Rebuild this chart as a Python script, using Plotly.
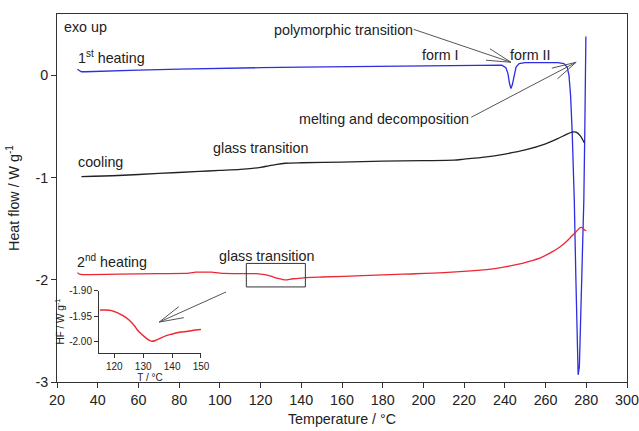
import math
import plotly.graph_objects as go

# ---------------- data ----------------
heat1_T = [30, 31, 32, 34, 40, 60, 80, 100, 120, 140, 160, 180, 200, 220, 235, 238.5, 240.5, 241.5,
           242.3, 243, 243.7, 244.5, 245.5, 247, 250, 260, 266, 269, 270.6, 271.5, 272.3, 273.1,
           274.1, 274.9, 275.5, 276.0, 276.6, 277.3, 278.0, 278.8, 279.3, 279.8]
heat1_Y = [0.06, 0.045, 0.035, 0.035, 0.04, 0.05, 0.06, 0.07, 0.075, 0.08, 0.085, 0.09, 0.095, 0.10,
           0.105, 0.10, 0.075, 0.02, -0.08, -0.13, -0.09, 0.0, 0.08, 0.115, 0.125, 0.125, 0.125, 0.115,
           0.08, 0.0, -0.2, -0.57, -1.22, -2.0, -2.6, -2.93, -2.85, -2.4, -1.8, -1.22, -0.5, 0.38]

cool_T = [32, 50, 70, 90, 100, 110, 116, 120, 124, 128, 132, 140, 160, 180, 200, 215, 220, 230,
          240, 250, 260, 266, 270, 273, 275, 277, 279]
cool_Y = [-0.99, -0.98, -0.96, -0.94, -0.93, -0.92, -0.91, -0.90, -0.885, -0.87, -0.86, -0.855,
          -0.85, -0.84, -0.835, -0.83, -0.82, -0.80, -0.77, -0.73, -0.67, -0.62, -0.58, -0.555,
          -0.555, -0.59, -0.66]

heat2_T = [30, 31, 33, 36, 50, 70, 85, 88, 92, 96, 100, 110, 118, 122, 125, 128, 131, 133, 136,
           140, 145, 150, 170, 190, 210, 225, 235, 245, 252, 258, 263, 267, 270, 273, 275, 277,
           278, 279, 280]
heat2_Y = [-1.93, -1.945, -1.95, -1.95, -1.945, -1.94, -1.935, -1.925, -1.925, -1.925, -1.935,
           -1.94, -1.94, -1.95, -1.965, -1.985, -1.998, -2.0, -1.99, -1.983, -1.977, -1.973, -1.96,
           -1.945, -1.93, -1.91, -1.89, -1.855, -1.82, -1.78, -1.73, -1.68, -1.63, -1.57, -1.53,
           -1.49, -1.49, -1.51, -1.52]

inset_T = [115, 117, 119, 120, 121, 123, 125, 127, 128, 129, 131, 132, 133, 134, 136, 138, 140,
           143, 145, 147, 150]
inset_Y = [-1.938, -1.938, -1.939, -1.941, -1.943, -1.949, -1.957, -1.969, -1.977, -1.983, -1.993,
           -1.997, -1.999, -1.998, -1.993, -1.988, -1.985, -1.981, -1.980, -1.978, -1.976]

x_ticks = [20, 40, 60, 80, 100, 120, 140, 160, 180, 200, 220, 240, 260, 280, 300]
y_ticks = [0, -1, -2, -3]
inset_x_ticks = [120, 130, 140, 150]
inset_y_ticks = [-1.90, -1.95, -2.00]

# ---------------- layout constants ----------------
W, H = 639, 431
ML, MR, MT, MB = 57, 12, 14, 49
XR = [20, 300]
YR = [-3, 0.6]
PW, PH = W - ML - MR, H - MT - MB
sx = PW / (XR[1] - XR[0])
sy = PH / (YR[1] - YR[0])

FONT = "Liberation Sans, Arial, sans-serif"
TXT = "#222222"
ARROW = "#555555"
FS = 14.3

fig = go.Figure()
fig.add_trace(go.Scatter(x=heat1_T, y=heat1_Y, mode="lines",
                         line=dict(color="rgb(45,45,225)", width=1.3), showlegend=False))
fig.add_trace(go.Scatter(x=cool_T, y=cool_Y, mode="lines",
                         line=dict(color="#222222", width=1.3, shape="spline", smoothing=0.8),
                         showlegend=False))
fig.add_trace(go.Scatter(x=heat2_T, y=heat2_Y, mode="lines",
                         line=dict(color="rgb(235,40,50)", width=1.3, shape="spline", smoothing=0.8),
                         showlegend=False))
fig.add_trace(go.Scatter(x=inset_T, y=inset_Y, mode="lines", xaxis="x2", yaxis="y2",
                         line=dict(color="rgb(235,40,50)", width=1.5, shape="spline", smoothing=0.8),
                         showlegend=False))

# rectangle marking the glass transition region
fig.add_shape(type="rect", xref="x", yref="y", x0=113, x1=142, y0=-2.07, y1=-1.84,
              line=dict(color="#333333", width=1))


def arrow(tail, tip, length=25, ang=14):
    fig.add_shape(type="line", xref="x", yref="y", x0=tail[0], y0=tail[1], x1=tip[0], y1=tip[1],
                  line=dict(color=ARROW, width=1))
    dx = (tail[0] - tip[0]) * sx
    dy = -(tail[1] - tip[1]) * sy
    n = math.hypot(dx, dy)
    ux, uy = dx / n, dy / n
    for s in (-1, 1):
        a = math.radians(ang * s)
        bx = ux * math.cos(a) - uy * math.sin(a)
        by = ux * math.sin(a) + uy * math.cos(a)
        ex = tip[0] + bx * length / sx
        ey = tip[1] - by * length / sy
        fig.add_shape(type="line", xref="x", yref="y", x0=tip[0], y0=tip[1], x1=ex, y1=ey,
                      line=dict(color=ARROW, width=1))


arrow((195.2, 0.45), (243.0, 0.128))
arrow((223.5, -0.41), (275.0, 0.128))
arrow((103.0, -2.12), (70.2, -2.414))


def label(x, y, text, anchor="left", size=FS):
    fig.add_annotation(x=x, y=y, xref="x", yref="y", text=text, showarrow=False,
                       xanchor=anchor, yanchor="middle", font=dict(family=FONT, size=size, color=TXT))


label(22.5, 0.47, "exo up")
label(29.5, 0.18, "1<sup>st</sup> heating")
label(29.5, -0.85, "cooling")
label(120.0, -0.71, "glass transition", "center")
label(196.0, 0.44, "polymorphic transition", "right")
label(208.3, 0.195, "form I", "center")
label(252.5, 0.195, "form II", "center")
label(223.5, -0.43, "melting and decomposition", "right")
label(29.0, -1.82, "2<sup>nd</sup> heating")
label(123.0, -1.77, "glass transition", "center")

axis_common = dict(showgrid=False, zeroline=False, showline=True, linecolor="#333333",
                   linewidth=1, ticks="outside", tickcolor="#333333", ticklen=5, automargin=False,
                   tickfont=dict(family=FONT, size=FS, color=TXT))

fig.update_layout(
    template="none",
    width=W, height=H, autosize=False,
    margin=dict(l=ML, r=MR, t=MT, b=MB, pad=0),
    paper_bgcolor="white", plot_bgcolor="white",
    showlegend=False,
    xaxis=dict(range=XR, tickvals=x_ticks, mirror=True,
               title=dict(text="Temperature / °C", standoff=6,
                          font=dict(family=FONT, size=FS, color=TXT)),
               **axis_common),
    yaxis=dict(range=YR, tickvals=y_ticks, ticktext=[str(v) for v in y_ticks], mirror=True,
               title=dict(text="Heat flow / W g<sup>-1</sup>", standoff=12,
                          font=dict(family=FONT, size=FS, color=TXT)),
               **axis_common),
    xaxis2=dict(domain=[0.0737, 0.2526], anchor="y2", range=[114.7, 150], tickvals=inset_x_ticks,
                showgrid=False, zeroline=False, showline=True, linecolor="#333333", linewidth=1,
                ticks="outside", ticklen=4, tickcolor="#333333", automargin=False,
                tickfont=dict(family=FONT, size=10, color=TXT),
                title=dict(text="T / °C", standoff=0, font=dict(family=FONT, size=10, color=TXT))),
    yaxis2=dict(domain=[0.0796, 0.248], anchor="x2", range=[-2.0216, -1.90],
                tickvals=inset_y_ticks, ticktext=["-1.90", "-1.95", "-2.00"],
                showgrid=False, zeroline=False, showline=True, linecolor="#333333", linewidth=1,
                ticks="outside", ticklen=4, tickcolor="#333333", automargin=False,
                tickfont=dict(family=FONT, size=10, color=TXT),
                title=dict(text="HF / W g<sup>-1</sup>", standoff=2,
                           font=dict(family=FONT, size=10, color=TXT))),
)

fig.write_html("out.html")
